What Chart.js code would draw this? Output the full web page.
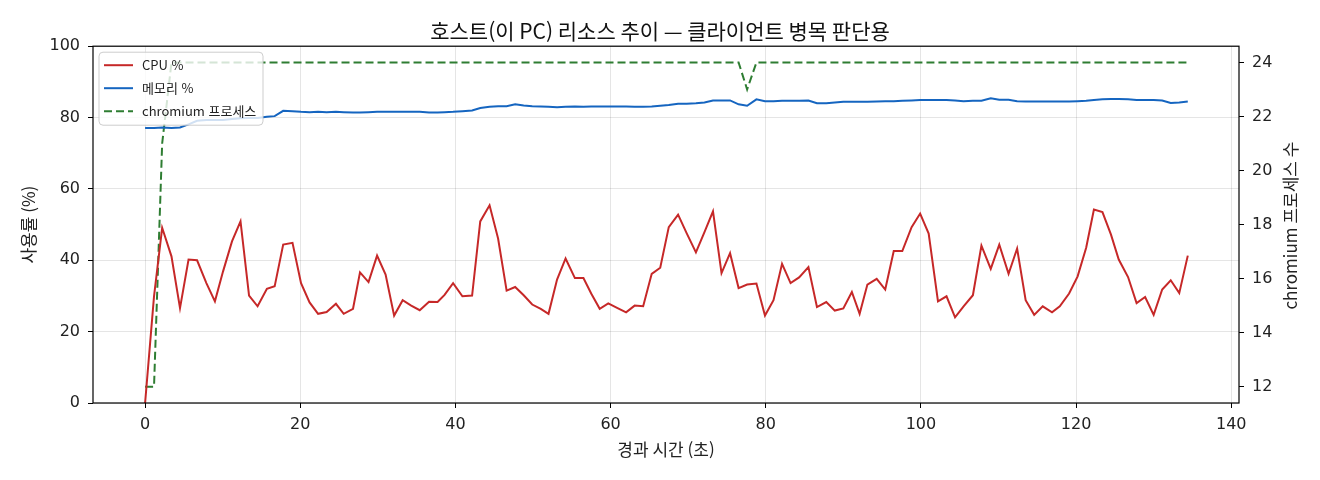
<!DOCTYPE html>
<html lang="ko">
<head>
<meta charset="utf-8">
<title>호스트(이 PC) 리소스 추이</title>
<script src="https://cdn.jsdelivr.net/npm/chart.js@4.4.1/dist/chart.umd.min.js"></script>
<style>
  html, body { margin: 0; padding: 0; background: #ffffff; }
  #wrap { width: 1320px; height: 480px; }
</style>
</head>
<body>
<div id="wrap"><canvas id="c" width="1320" height="480"></canvas></div>
<script>
// ---- data ----
const timeSec = [
  0.0, 1.15, 2.2, 3.4, 4.5, 5.6, 6.7, 7.9, 9.0, 10.05,
  11.2, 12.3, 13.4, 14.5, 15.7, 16.7, 17.8, 19.0, 20.1, 21.2,
  22.3, 23.4, 24.6, 25.6, 26.8, 27.7, 28.8, 29.9, 31.0, 32.1,
  33.2, 34.3, 35.4, 36.6, 37.7, 38.6, 39.7, 40.9, 42.15, 43.2,
  44.4, 45.5, 46.6, 47.7, 48.8, 49.9, 51.0, 52.0, 53.1, 54.2,
  55.4, 56.5, 57.5, 58.6, 59.7, 60.9, 62.0, 63.1, 64.2, 65.3,
  66.4, 67.5, 68.7, 69.8, 71.0, 72.1, 73.2, 74.3, 75.4, 76.5,
  77.6, 78.8, 79.9, 81.0, 82.1, 83.2, 84.3, 85.5, 86.6, 87.8,
  88.9, 90.0, 91.1, 92.1, 93.1, 94.3, 95.4, 96.5, 97.6, 98.8,
  99.9, 101.0, 102.2, 103.3, 104.4, 105.5, 106.7, 107.8, 109.0, 110.1,
  111.3, 112.4, 113.5, 114.6, 115.7, 116.9, 117.9, 119.1, 120.2, 121.3,
  122.3, 123.4, 124.5, 125.5, 126.7, 127.8, 128.9, 130.0, 131.1, 132.2,
  133.3, 134.4
];
const cpuPct = [
  0, 29.9, 49.1, 41.1, 26.6, 40.2, 40.0, 33.6, 28.5, 36.9,
  45.3, 50.9, 30.1, 27.1, 32.0, 32.7, 44.4, 44.9, 33.6, 28.2,
  25.0, 25.5, 27.8, 25.0, 26.4, 36.6, 33.9, 41.3, 36.0, 24.5,
  28.8, 27.3, 26.0, 28.4, 28.3, 30.3, 33.6, 29.9, 30.1, 50.9,
  55.4, 46.1, 31.5, 32.5, 30.2, 27.6, 26.4, 25.0, 34.6, 40.5,
  35.0, 35.0, 30.7, 26.4, 27.9, 26.6, 25.4, 27.3, 27.1, 36.2,
  37.9, 49.3, 52.8, 47.6, 42.2, 47.9, 53.7, 36.4, 42.0, 32.2,
  33.2, 33.5, 24.5, 28.8, 39.0, 33.6, 35.2, 38.1, 26.9, 28.3,
  25.9, 26.5, 31.1, 25.0, 33.2, 34.8, 31.8, 42.6, 42.6, 49.3,
  53.1, 47.5, 28.5, 29.9, 24.0, 27.1, 30.2, 44.1, 37.6, 44.4,
  36.2, 43.3, 28.8, 24.7, 27.1, 25.4, 27.1, 30.7, 35.5, 43.5,
  54.2, 53.5, 47.2, 40.2, 35.3, 28.0, 29.7, 24.7, 31.8, 34.4,
  30.8, 41.3
];
const memPct = [
  77.1, 77.1, 77.2, 77.1, 77.2, 78.1, 79.1, 79.3, 79.3, 79.3,
  79.6, 79.8, 79.9, 79.9, 80.2, 80.4, 81.9, 81.8, 81.6, 81.5,
  81.6, 81.5, 81.6, 81.5, 81.4, 81.4, 81.5, 81.6, 81.6, 81.6,
  81.6, 81.6, 81.6, 81.4, 81.4, 81.5, 81.6, 81.8, 82.0, 82.7,
  83.0, 83.2, 83.2, 83.7, 83.4, 83.2, 83.1, 83.0, 82.9, 83.0,
  83.1, 83.0, 83.1, 83.1, 83.1, 83.1, 83.1, 83.0, 83.0, 83.1,
  83.3, 83.5, 83.9, 83.9, 84.0, 84.2, 84.8, 84.8, 84.8, 83.7,
  83.3, 85.1, 84.6, 84.6, 84.7, 84.7, 84.7, 84.8, 84.0, 84.0,
  84.2, 84.4, 84.4, 84.4, 84.4, 84.5, 84.6, 84.6, 84.7, 84.8,
  84.9, 84.9, 84.9, 84.9, 84.8, 84.6, 84.7, 84.7, 85.4, 85.0,
  85.0, 84.6, 84.5, 84.5, 84.5, 84.5, 84.5, 84.5, 84.6, 84.7,
  84.9, 85.1, 85.2, 85.2, 85.1, 84.9, 84.9, 84.9, 84.8, 84.1,
  84.2, 84.5
];
const procCount = [
  12, 12, 21, 24, 24, 24, 24, 24, 24, 24,
  24, 24, 24, 24, 24, 24, 24, 24, 24, 24,
  24, 24, 24, 24, 24, 24, 24, 24, 24, 24,
  24, 24, 24, 24, 24, 24, 24, 24, 24, 24,
  24, 24, 24, 24, 24, 24, 24, 24, 24, 24,
  24, 24, 24, 24, 24, 24, 24, 24, 24, 24,
  24, 24, 24, 24, 24, 24, 24, 24, 24, 24,
  23, 24, 24, 24, 24, 24, 24, 24, 24, 24,
  24, 24, 24, 24, 24, 24, 24, 24, 24, 24,
  24, 24, 24, 24, 24, 24, 24, 24, 24, 24,
  24, 24, 24, 24, 24, 24, 24, 24, 24, 24,
  24, 24, 24, 24, 24, 24, 24, 24, 24, 24,
  24, 24
];
const seriesLabels = ['CPU %', '메모리 %', 'chromium 프로세스'];
const xTicks = [0, 20, 40, 60, 80, 100, 120, 140];
const yTicks = [0, 20, 40, 60, 80, 100];
const y2Ticks = [12, 14, 16, 18, 20, 22, 24];
const chartTitle = '호스트(이 PC) 리소스 추이 — 클라이언트 병목 판단용';
const xTitle = '경과 시간 (초)';
const yTitle = '사용률 (%)';
const y2Title = 'chromium 프로세스 수';

// ---- chart ----
const FONT = "'Noto Sans CJK KR', 'Noto Sans', 'DejaVu Sans', sans-serif";
const NUMFONT = "'DejaVu Sans', 'Noto Sans CJK KR', sans-serif";
Chart.defaults.font.family = FONT;
Chart.defaults.color = '#222222';

const toPts = (vals) => vals.map((v, i) => ({ x: timeSec[i], y: v }));

const framePlugin = {
  id: 'frame',
  afterDraw(chart) {
    const { ctx, chartArea: a } = chart;
    ctx.save();
    ctx.strokeStyle = '#000000';
    ctx.lineWidth = 1.2;
    ctx.strokeRect(a.left, a.top, a.right - a.left, a.bottom - a.top);
    // right axis title, reading bottom-to-top like the reference
    const s = chart.scales.y2;
    ctx.translate(s.right - 29, (a.top + a.bottom) / 2 + 1);
    ctx.rotate(-Math.PI / 2);
    ctx.fillStyle = '#222222';
    ctx.font = "17px " + FONT;
    ctx.textAlign = 'center';
    ctx.textBaseline = 'middle';
    ctx.fillText(y2Title, 0, 0);
    ctx.restore();
  }
};

const legendPlugin = {
  id: 'boxLegend',
  afterDatasetsDraw(chart) {
    const { ctx, chartArea: a } = chart;
    const x0 = a.left + 6, y0 = a.top + 6, w = 164, h = 73, r = 4;
    ctx.save();
    ctx.beginPath();
    ctx.moveTo(x0 + r, y0);
    ctx.lineTo(x0 + w - r, y0);
    ctx.quadraticCurveTo(x0 + w, y0, x0 + w, y0 + r);
    ctx.lineTo(x0 + w, y0 + h - r);
    ctx.quadraticCurveTo(x0 + w, y0 + h, x0 + w - r, y0 + h);
    ctx.lineTo(x0 + r, y0 + h);
    ctx.quadraticCurveTo(x0, y0 + h, x0, y0 + h - r);
    ctx.lineTo(x0, y0 + r);
    ctx.quadraticCurveTo(x0, y0, x0 + r, y0);
    ctx.closePath();
    ctx.fillStyle = 'rgba(255,255,255,0.8)';
    ctx.fill();
    ctx.strokeStyle = 'rgba(200,200,200,0.9)';
    ctx.lineWidth = 1;
    ctx.stroke();
    chart.data.datasets.forEach((ds, i) => {
      const yy = y0 + 13 + i * 23;
      ctx.beginPath();
      ctx.setLineDash(ds.borderDash || []);
      ctx.strokeStyle = ds.borderColor;
      ctx.lineWidth = ds.borderWidth;
      ctx.moveTo(x0 + 5, yy);
      ctx.lineTo(x0 + 34, yy);
      ctx.stroke();
      ctx.setLineDash([]);
      ctx.fillStyle = '#222222';
      ctx.font = "13px " + FONT;
      ctx.textBaseline = 'middle';
      ctx.textAlign = 'left';
      ctx.fillText(ds.label, x0 + 43, yy);
    });
    ctx.restore();
  }
};

const gridColor = 'rgba(0,0,0,0.10)';
const tickFont = { size: 16, family: NUMFONT };

new Chart(document.getElementById('c'), {
  type: 'line',
  data: {
    datasets: [
      {
        label: seriesLabels[0],
        data: toPts(cpuPct),
        borderColor: '#c62828',
        borderWidth: 2,
        pointRadius: 0,
        tension: 0,
        yAxisID: 'y'
      },
      {
        label: seriesLabels[1],
        data: toPts(memPct),
        borderColor: '#1565c0',
        borderWidth: 2,
        pointRadius: 0,
        tension: 0,
        yAxisID: 'y'
      },
      {
        label: seriesLabels[2],
        data: toPts(procCount),
        borderColor: '#2e7d32',
        borderWidth: 2,
        borderDash: [8, 4],
        pointRadius: 0,
        tension: 0,
        yAxisID: 'y2'
      }
    ]
  },
  options: {
    responsive: false,
    animation: false,
    devicePixelRatio: 1,
    layout: { padding: 0 },
    plugins: {
      legend: { display: false },
      tooltip: { enabled: false },
      title: {
        display: true,
        text: chartTitle,
        color: '#111111',
        font: { size: 21, weight: 'normal' },
        padding: { top: 18, bottom: 3 }
      }
    },
    scales: {
      x: {
        type: 'linear',
        min: -6.715,
        max: 141.0,
        afterBuildTicks: (s) => { s.ticks = xTicks.map(v => ({ value: v })); },
        afterFit: (s) => { s.height = 77; },
        ticks: { font: tickFont, color: '#222222', padding: 7, maxRotation: 0, autoSkip: false },
        grid: { color: gridColor, tickColor: '#000000', tickLength: 5, lineWidth: 1 },
        border: { display: false },
        title: { display: true, text: xTitle, font: { size: 17 }, color: '#222222', padding: { top: 0, bottom: 20 } }
      },
      y: {
        type: 'linear',
        position: 'left',
        min: 0,
        max: 100,
        afterBuildTicks: (s) => { s.ticks = yTicks.map(v => ({ value: v })); },
        afterFit: (s) => { s.width = 93; },
        ticks: { font: tickFont, color: '#222222', padding: 8 },
        grid: { color: gridColor, tickColor: '#000000', tickLength: 5, lineWidth: 1 },
        border: { display: false },
        title: { display: true, text: yTitle, font: { size: 17 }, color: '#222222', padding: { top: 18, bottom: 0 } }
      },
      y2: {
        type: 'linear',
        position: 'right',
        min: 11.4,
        max: 24.6,
        afterBuildTicks: (s) => { s.ticks = y2Ticks.map(v => ({ value: v })); },
        afterFit: (s) => { s.width = 81; },
        ticks: { font: tickFont, color: '#222222', padding: 8 },
        grid: { drawOnChartArea: false, tickColor: '#000000', tickLength: 5 },
        border: { display: false },
        title: { display: false, text: y2Title }
      }
    }
  },
  plugins: [legendPlugin, framePlugin]
});
</script>
</body>
</html>
